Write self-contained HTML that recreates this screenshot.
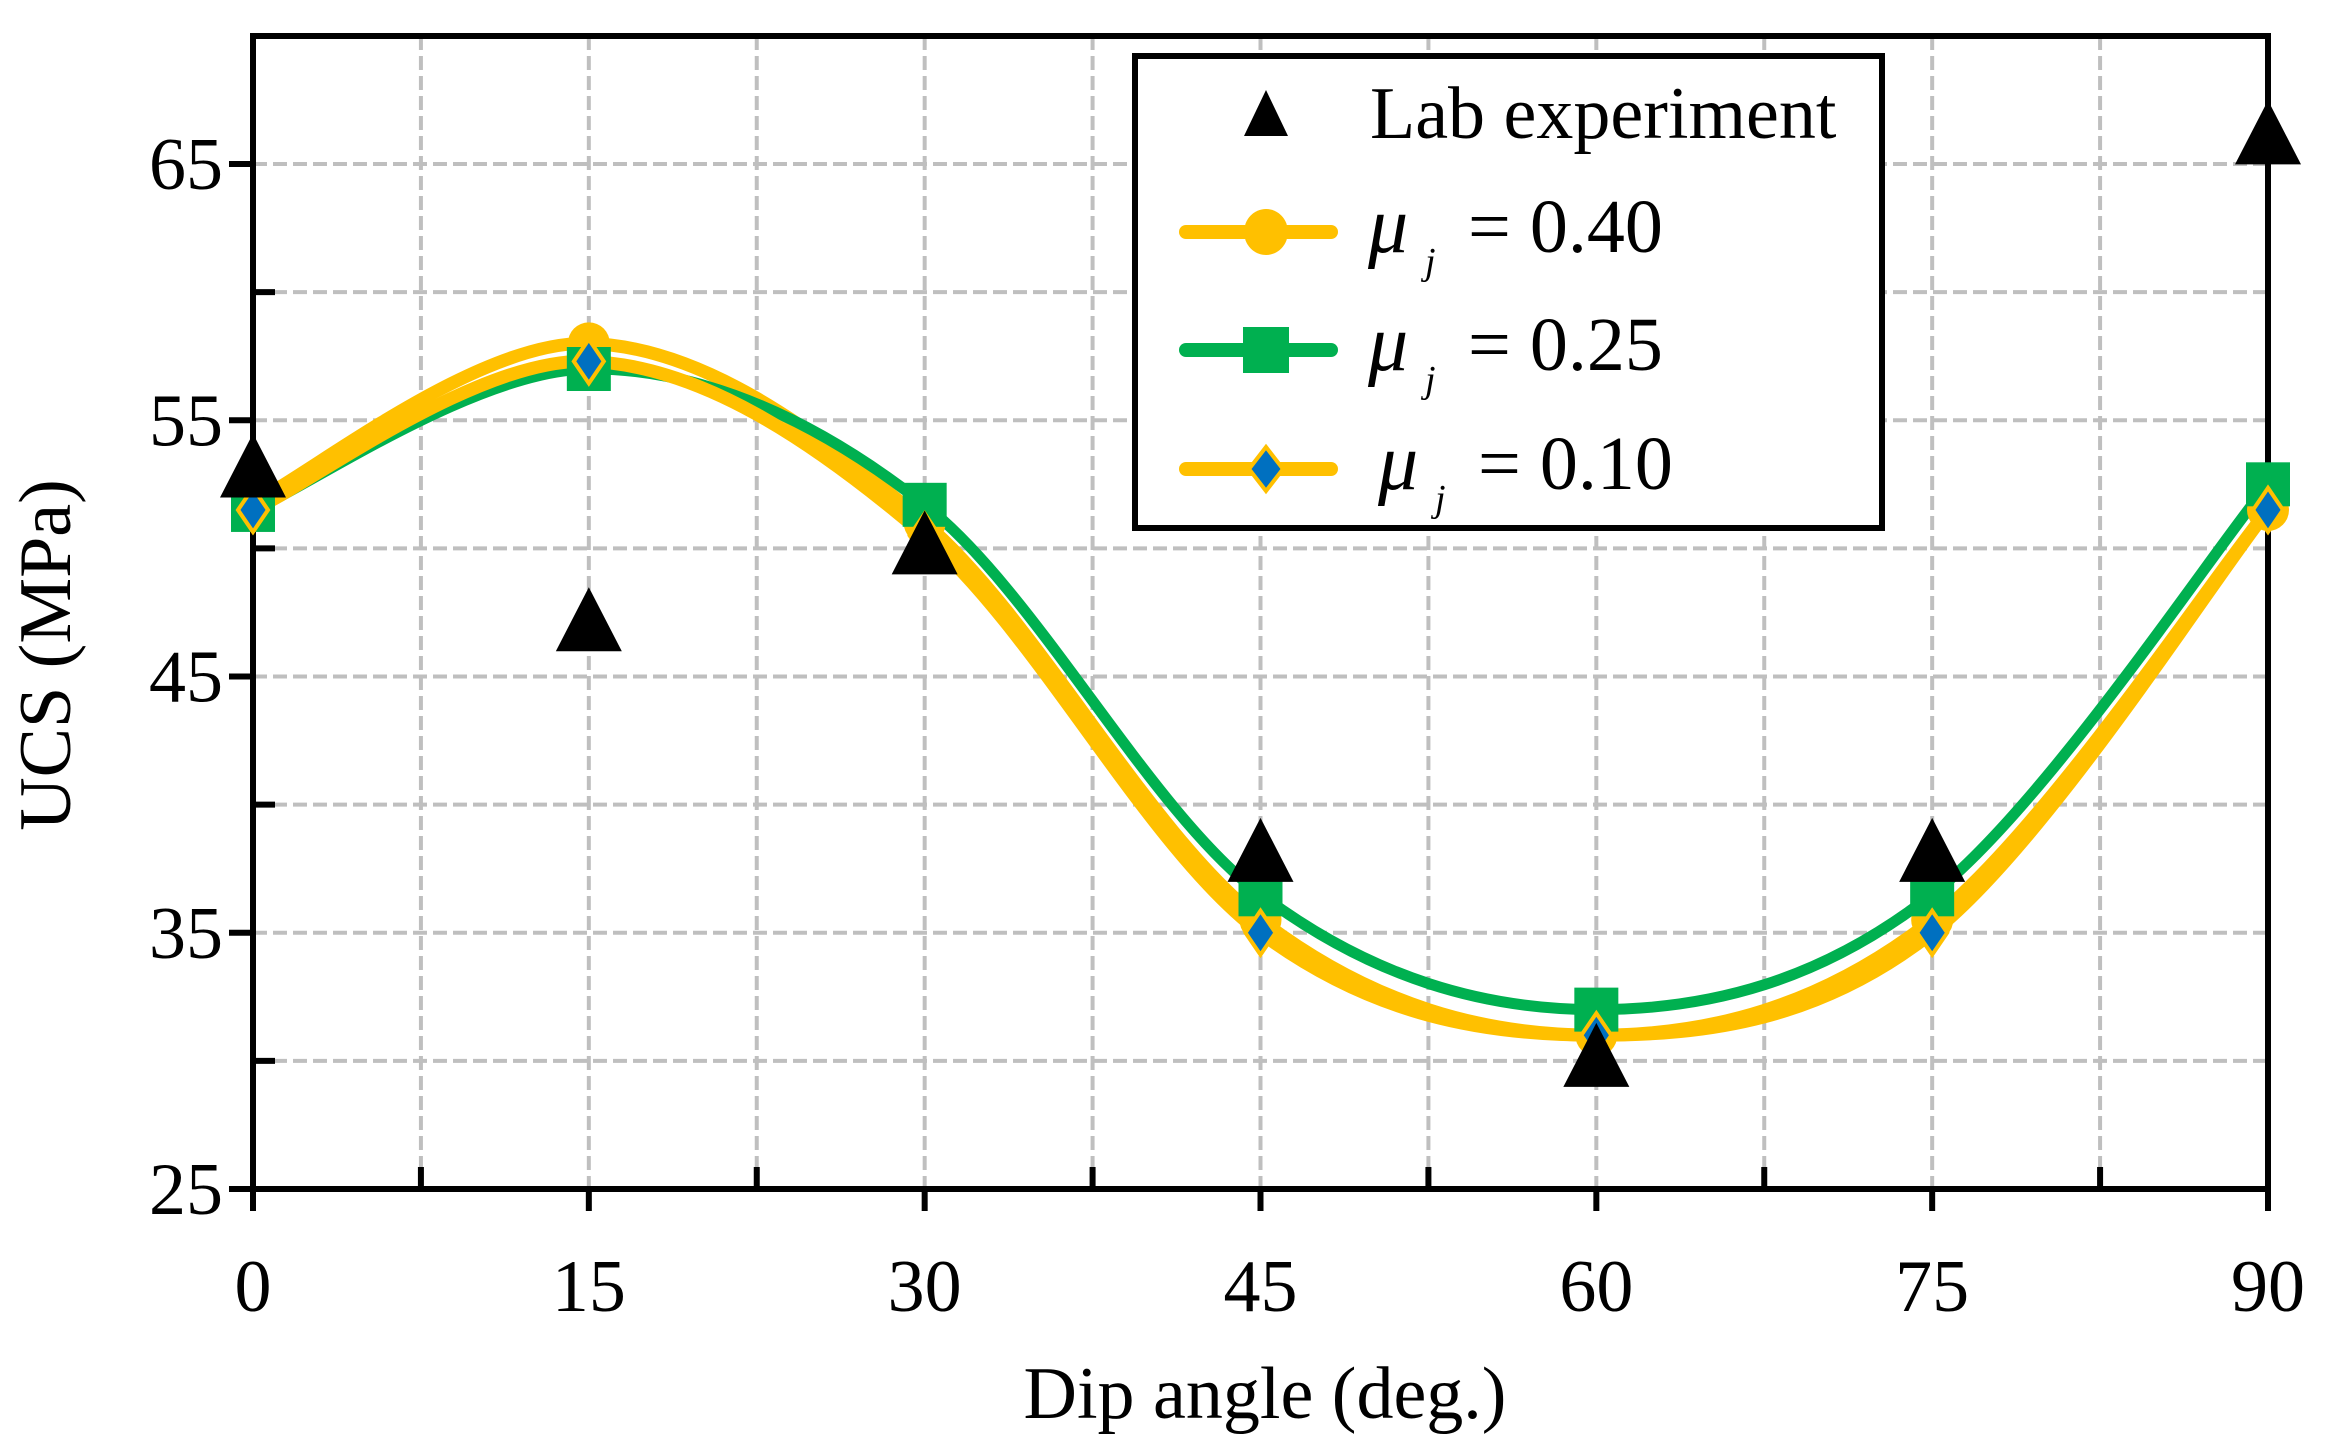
<!DOCTYPE html>
<html><head><meta charset="utf-8"><style>html,body{margin:0;padding:0;background:#fff}svg{display:block}</style></head>
<body>
<svg id="s" width="2329" height="1447" viewBox="0 0 2329 1447" xmlns="http://www.w3.org/2000/svg" font-family="Liberation Serif, serif"></svg>
<script>
const X0=253,XS=(2268-253)/90,Y0=1189,YS=(1189-164)/40;
const px=x=>X0+x*XS, py=y=>Y0-(y-25)*YS;
let h='';
for(let i=1;i<12;i++){let x=px(i*7.5);h+=`<line x1="${x}" y1="36" x2="${x}" y2="${Y0}" stroke="#bfbfbf" stroke-width="4" stroke-dasharray="14,6"/>`;}
for(let v=30;v<=70;v+=5){let y=py(v);h+=`<line x1="${X0}" y1="${y}" x2="2268" y2="${y}" stroke="#bfbfbf" stroke-width="4" stroke-dasharray="14,6"/>`;}
h+=`<rect x="${X0}" y="36" width="${2268-X0}" height="${Y0-36}" fill="none" stroke="#000" stroke-width="6"/>`;
for(let i=0;i<=12;i++){let x=px(i*7.5);h+= i%2==0?`<line x1="${x}" y1="${Y0}" x2="${x}" y2="${Y0+22}" stroke="#000" stroke-width="6"/>`:`<line x1="${x}" y1="${Y0}" x2="${x}" y2="${Y0-22}" stroke="#000" stroke-width="6"/>`;}
for(let v=25;v<=65;v+=5){let y=py(v);h+= (v-25)%10==0?`<line x1="${X0-24}" y1="${y}" x2="${X0}" y2="${y}" stroke="#000" stroke-width="6"/>`:`<line x1="${X0}" y1="${y}" x2="${X0+22}" y2="${y}" stroke="#000" stroke-width="6"/>`;}
for(let v=25;v<=65;v+=10)h+=`<text x="${X0-30}" y="${py(v)+25}" font-size="74" text-anchor="end">${v}</text>`;
for(let d=0;d<=90;d+=15)h+=`<text x="${px(d)}" y="1311" font-size="74" text-anchor="middle">${d}</text>`;
h+=`<text x="1265" y="1418" font-size="74" text-anchor="middle">Dip angle (deg.)</text>`;
h+=`<text transform="translate(70,655) rotate(-90)" font-size="74" text-anchor="middle">UCS (MPa)</text>`;
const xs=[0,15,30,45,60,75,90];
function path(ys){let p=xs.map((x,i)=>[px(x),py(ys[i])]);let d=`M${p[0]}`;for(let i=0;i<p.length-1;i++){let a=p[Math.max(0,i-1)],b=p[i],c=p[i+1],e=p[Math.min(p.length-1,i+2)];let c1=[b[0]+(c[0]-a[0])/6,b[1]+(c[1]-a[1])/6],c2=[c[0]-(e[0]-b[0])/6,c[1]-(e[1]-b[1])/6];d+=` C${c1} ${c2} ${c}`;}return d;}
const s40=[51.8,58,51,35.5,31,35.5,51.5],s25=[51.5,57,51.7,36.5,32,36.5,52.5],s10=[51.5,57.3,50.5,35,31,35,51.5],lab=[53,47,50,38,30,38,66];
h+=`<path d="${path(s40)}" fill="none" stroke="#ffc000" stroke-width="13"/>`;
h+=`<path d="${path(s25)}" fill="none" stroke="#00b050" stroke-width="11"/>`;
h+=`<path d="${path(s10)}" fill="none" stroke="#ffc000" stroke-width="13"/>`;
const circ=(x,y)=>`<circle cx="${x}" cy="${y}" r="21" fill="#ffc000"/>`;
const sq=(x,y)=>`<rect x="${x-22}" y="${y-22}" width="44" height="44" fill="#00b050"/>`;
const dia=(x,y)=>`<polygon points="${x},${y-22} ${x+15},${y} ${x},${y+22} ${x-15},${y}" fill="#0070c0" stroke="#ffc000" stroke-width="4"/>`;
const tri=(x,y)=>`<polygon points="${x},${y-38} ${x+33},${y+26} ${x-33},${y+26}" fill="#000"/>`;
xs.forEach((x,i)=>h+=circ(px(x),py(s40[i])));
xs.forEach((x,i)=>h+=sq(px(x),py(s25[i])));
xs.forEach((x,i)=>h+=dia(px(x),py(s10[i])));
xs.forEach((x,i)=>h+=tri(px(x),py(lab[i])));
h+=`<rect x="1135" y="56" width="747" height="472" fill="#fff" stroke="#000" stroke-width="6"/>`;
h+=`<polygon points="1266,90 1288,136 1244,136" fill="#000"/>`;
h+=`<text x="1370" y="138" font-size="74">Lab experiment</text>`;
const ly=[232,350,469],col=["#ffc000","#00b050","#ffc000"],lab2=["0.40","0.25","0.10"];
ly.forEach((y,i)=>{h+=`<line x1="1186" y1="${y}" x2="1331" y2="${y}" stroke="${col[i]}" stroke-width="14" stroke-linecap="round"/>`;
h+= i==0?`<ellipse cx="1266" cy="${y}" rx="22" ry="23" fill="#ffc000"/>`: i==1?`<rect x="1243" y="${y-23}" width="46" height="46" fill="#00b050"/>`:`<polygon points="1266,${y-22} 1283,${y} 1266,${y+22} 1249,${y}" fill="#0070c0" stroke="#ffc000" stroke-width="4"/>`;
let o=i==2?10:0;
h+=`<text x="${1368+o}" y="${y+20}" font-size="80" font-style="italic">μ</text><text x="${1425+o}" y="${y+42}" font-size="38" font-style="italic">j</text><text x="${1468+o}" y="${y+20}" font-size="76">= ${lab2[i]}</text>`;});
document.getElementById('s').innerHTML=h;
</script>
</body></html>
